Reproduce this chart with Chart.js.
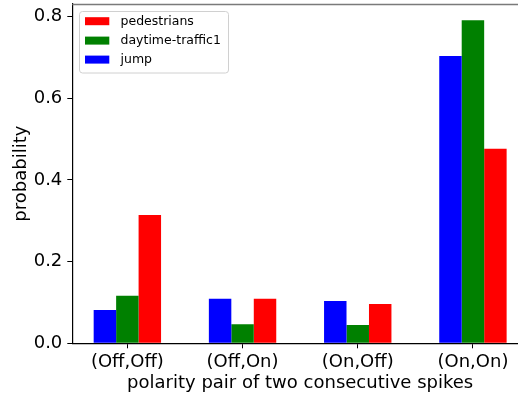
<!DOCTYPE html>
<html>
<head>
<meta charset="utf-8">
<script src="https://cdn.jsdelivr.net/npm/chart.js@4/dist/chart.umd.min.js"></script>
<style>
html,body{margin:0;padding:0;background:#fff;overflow:hidden;width:518px;height:395px;}
#wrap{width:518px;height:395px;overflow:hidden;position:relative;}
canvas{display:block;}
</style>
</head>
<body>
<div id="wrap"><canvas id="c" width="528" height="395"></canvas></div>
<script>
const categories = ["(Off,Off)", "(Off,On)", "(On,Off)", "(On,On)"];
const jump = [0.0815, 0.109, 0.1035, 0.703];
const daytimeTraffic1 = [0.1165, 0.0465, 0.045, 0.791];
const pedestrians = [0.314, 0.109, 0.096, 0.476];
const seriesNames = ["jump", "daytime-traffic1", "pedestrians"];
const yTicks = [0.0, 0.2, 0.4, 0.6, 0.8];
const xAxisTitle = "polarity pair of two consecutive spikes";
const yAxisTitle = "probability";

const FONT = "'DejaVu Sans', sans-serif";
const toPts = arr => arr.map((v, i) => ({x: i, y: v}));

const legendPlugin = {
  id: 'mplLegend',
  afterDraw(chart) {
    const ctx = chart.ctx;
    ctx.save();
    // top spine
    const a = chart.chartArea;
    ctx.strokeStyle = '#7a7a7a';
    ctx.lineWidth = 1.5;
    ctx.beginPath();
    ctx.moveTo(a.left, a.top + 0.5);
    ctx.lineTo(a.right, a.top + 0.5);
    ctx.stroke();
    // legend box
    const x0 = 79.5, y0 = 11.5, w = 149, h = 61.5, r = 3;
    ctx.fillStyle = 'rgba(255,255,255,0.8)';
    ctx.strokeStyle = '#d0d0d0';
    ctx.lineWidth = 1;
    ctx.beginPath();
    ctx.roundRect(x0, y0, w, h, r);
    ctx.fill();
    ctx.stroke();
    const ds = chart.data.datasets.slice().reverse();
    const rowY = [21.2, 40.6, 59.6];
    ctx.font = "12.5px " + FONT;
    ctx.textBaseline = 'middle';
    ctx.textAlign = 'left';
    ds.forEach((d, i) => {
      ctx.fillStyle = d.backgroundColor;
      ctx.fillRect(85, rowY[i] - 4, 24.3, 8);
      ctx.fillStyle = '#000';
      ctx.fillText(d.label, 120.5, rowY[i] + 0.5);
    });
    ctx.restore();
  }
};

new Chart(document.getElementById('c'), {
  type: 'bar',
  data: {
    datasets: [
      {label: seriesNames[0], data: toPts(jump), backgroundColor: '#0000ff'},
      {label: seriesNames[1], data: toPts(daytimeTraffic1), backgroundColor: '#008000'},
      {label: seriesNames[2], data: toPts(pedestrians), backgroundColor: '#ff0000'}
    ]
  },
  options: {
    responsive: false,
    animation: false,
    devicePixelRatio: 1,
    events: [],
    layout: {padding: {top: 4, right: 0, bottom: 0, left: 0}},
    datasets: {bar: {barPercentage: 1, categoryPercentage: 0.585, borderWidth: 0}},
    plugins: {legend: {display: false}, tooltip: {enabled: false}},
    scales: {
      x: {
        type: 'linear',
        min: -0.478,
        max: 3.478,
        offset: false,
        grid: {display: true, offset: false, drawOnChartArea: false, drawTicks: true, tickLength: 5, color: '#000', lineWidth: 1},
        border: {display: true, color: '#000', width: 1.2},
        ticks: {
          stepSize: 1,
          includeBounds: false,
          autoSkip: false,
          maxRotation: 0,
          padding: 3,
          color: '#000',
          font: {family: FONT, size: 18},
          callback: v => (Number.isInteger(v) && categories[v] !== undefined) ? categories[v] : ''
        },
        title: {display: true, text: xAxisTitle, color: '#000', font: {family: FONT, size: 18}, padding: {top: 0, bottom: 1}},
        afterFit(s) { s.height = 51.7; s.paddingLeft = 0; s.paddingRight = 0; }
      },
      y: {
        min: 0,
        max: 0.8306,
        grid: {display: true, offset: false, drawOnChartArea: false, drawTicks: true, tickLength: 5, color: '#000', lineWidth: 1},
        border: {display: true, color: '#000', width: 1.2},
        afterBuildTicks(s) { s.ticks = yTicks.map(v => ({value: v})); },
        ticks: {
          includeBounds: false,
          padding: 5,
          color: '#000',
          font: {family: FONT, size: 18},
          callback: v => Number(v).toFixed(1)
        },
        title: {display: true, text: yAxisTitle, color: '#000', font: {family: FONT, size: 18}, padding: {top: 11, bottom: 0}},
        afterFit(s) { s.width = 72.3; s.paddingTop = 0; s.paddingBottom = 0; }
      }
    }
  },
  plugins: [legendPlugin]
});
</script>
</body>
</html>
